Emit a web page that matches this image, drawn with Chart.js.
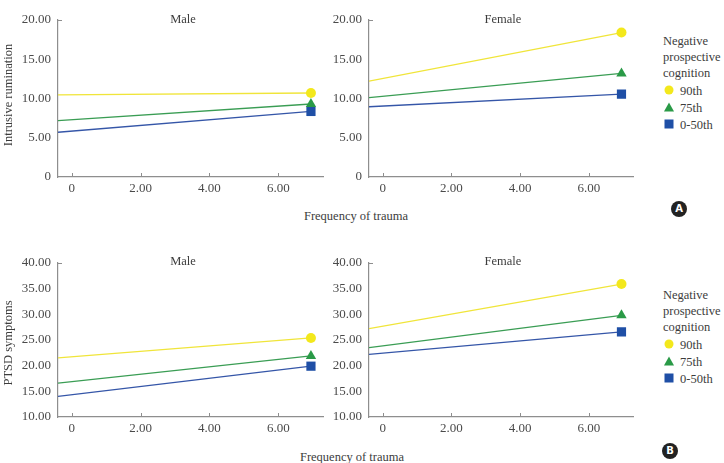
<!DOCTYPE html>
<html>
<head>
<meta charset="utf-8">
<script src="https://cdn.jsdelivr.net/npm/chart.js@4.4.1/dist/chart.umd.min.js"></script>
<style>
  body { margin:0; background:#fff; width:724px; height:463px; position:relative; overflow:hidden;
         font-family:"Liberation Serif", "DejaVu Serif", serif; color:#3c3c3c; }
  canvas { position:absolute; }
  .t  { position:absolute; white-space:nowrap; font-size:12.5px; line-height:1; transform:translate(-50%,-50%); }
  .rot { transform:translate(-50%,-50%) rotate(-90deg); }
  .lg { position:absolute; white-space:nowrap; font-size:12.5px; line-height:1; transform:translateY(-50%); }
  .mk { position:absolute; transform:translate(-50%,-50%); }
  .mk.c { width:9px; height:9px; border-radius:50%; background:#f3e81c; }
  .mk.tr { width:0; height:0; border-left:5px solid transparent; border-right:5px solid transparent; border-bottom:9px solid #2a9a47; }
  .mk.sq { width:9px; height:9px; background:#1f4fa6; }
  .badge { position:absolute; width:16px; height:16px; border-radius:50%; background:#222; color:#fff;
           font:bold 10px "DejaVu Sans", sans-serif; text-align:center; line-height:16px; transform:translate(-50%,-50%); }
</style>
</head>
<body>

<canvas id="c1"></canvas>
<canvas id="c2"></canvas>
<canvas id="c3"></canvas>
<canvas id="c4"></canvas>

<!-- panel titles and axis titles -->
<div class="t" style="left:183px;top:19px">Male</div>
<div class="t" style="left:503px;top:19px">Female</div>
<div class="t" style="left:183px;top:261px">Male</div>
<div class="t" style="left:503px;top:261px">Female</div>
<div class="t rot" style="left:8px;top:95px">Intrusive rumination</div>
<div class="t rot" style="left:8px;top:343px">PTSD symptoms</div>
<div class="t" style="left:356px;top:216px">Frequency of trauma</div>
<div class="t" style="left:352px;top:457px">Frequency of trauma</div>

<!-- legends -->
<div class="lg" style="left:663px;top:41px">Negative</div>
<div class="lg" style="left:663px;top:57px">prospective</div>
<div class="lg" style="left:663px;top:73px">cognition</div>
<div class="mk c"  style="left:669px;top:90px"></div><div class="lg" style="left:680px;top:91px">90th</div>
<div class="mk tr" style="left:669px;top:107px"></div><div class="lg" style="left:680px;top:108px">75th</div>
<div class="mk sq" style="left:669px;top:124px"></div><div class="lg" style="left:680px;top:125px">0-50th</div>

<div class="lg" style="left:663px;top:295px">Negative</div>
<div class="lg" style="left:663px;top:311px">prospective</div>
<div class="lg" style="left:663px;top:327px">cognition</div>
<div class="mk c"  style="left:669px;top:344px"></div><div class="lg" style="left:680px;top:345px">90th</div>
<div class="mk tr" style="left:669px;top:361px"></div><div class="lg" style="left:680px;top:362px">75th</div>
<div class="mk sq" style="left:669px;top:378px"></div><div class="lg" style="left:680px;top:379px">0-50th</div>

<div class="badge" style="left:679px;top:209px">A</div>
<div class="badge" style="left:670px;top:451px">B</div>

<script>
// ── data ────────────────────────────────────────────────────────────────────
const xTrauma   = [-0.4, 6.95];          // frequency of trauma (line start, end)
const xTickVals = [0, 2, 4, 6];
const xRange    = [-0.4, 7.3];

const ruminTicks = [0, 5, 10, 15, 20];
const ptsdTicks  = [10, 15, 20, 25, 30, 35, 40];

// Intrusive rumination
const ruminMale90   = [10.45, 10.7];
const ruminMale75   = [7.17, 9.3];
const ruminMale50   = [5.7, 8.35];
const ruminFemale90 = [12.2, 18.4];
const ruminFemale75 = [10.1, 13.2];
const ruminFemale50 = [8.95, 10.55];

// PTSD symptoms
const ptsdMale90   = [21.5, 25.4];
const ptsdMale75   = [16.6, 21.9];
const ptsdMale50   = [14.0, 19.9];
const ptsdFemale90 = [27.2, 35.9];
const ptsdFemale75 = [23.5, 29.8];
const ptsdFemale50 = [22.2, 26.6];

// ── style ───────────────────────────────────────────────────────────────────
const axisColor = '#8e8e8e';
const tickFont  = { family: '"Liberation Serif", serif', size: 13 };
const groups = [
  { line:'#f0e53a', fill:'#f3e81c', style:'circle',   r:5 },
  { line:'#3a9d54', fill:'#2a9a47', style:'triangle', r:6 },
  { line:'#3556a8', fill:'#1f4fa6', style:'rect',     r:6.5 },
];

const fmt = v => v === 0 ? '0' : v.toFixed(2);

// small inward ticks on the x axis and a cap at the top of the y axis
const inwardTicks = {
  id: 'inwardTicks',
  afterDraw(chart) {
    const { ctx, scales: { x, y } } = chart;
    ctx.save();
    ctx.strokeStyle = axisColor;
    ctx.lineWidth = 1;
    ctx.beginPath();
    x.ticks.forEach(t => {
      const px = Math.round(x.getPixelForValue(t.value)) + 0.5;
      ctx.moveTo(px, y.bottom);
      ctx.lineTo(px, y.bottom - 4);
    });
    const top = Math.round(y.getPixelForValue(y.max)) + 0.5;
    ctx.moveTo(x.left, top);
    ctx.lineTo(x.left + 4, top);
    ctx.stroke();
    ctx.restore();
  }
};

// canvas box + plot box in page coords
function makeChart(id, box, plot, yTicks, series) {
  const cv = document.getElementById(id);
  cv.width = box.w; cv.height = box.h;
  cv.style.left = box.x + 'px'; cv.style.top = box.y + 'px';

  const datasets = series.map((vals, i) => {
    const g = groups[i];
    return {
      data: xTrauma.map((x, j) => ({ x, y: vals[j] })),
      showLine: true,
      borderColor: g.line,
      borderWidth: 1.3,
      pointRadius: [0, g.r],
      pointHoverRadius: [0, g.r],
      pointStyle: g.style,
      pointBackgroundColor: g.fill,
      pointBorderColor: g.fill,
      pointBorderWidth: 0,
    };
  });

  return new Chart(cv, {
    type: 'scatter',
    data: { datasets },
    options: {
      responsive: false,
      animation: false,
      devicePixelRatio: 1,
      layout: { padding: { top: plot.t - box.y, right: box.x + box.w - plot.r, left: 0, bottom: 0 } },
      plugins: { legend: { display: false }, tooltip: { enabled: false } },
      scales: {
        x: {
          type: 'linear', min: xRange[0], max: xRange[1],
          afterBuildTicks: s => { s.ticks = xTickVals.map(v => ({ value: v })); },
          afterFit: s => { s.height = box.y + box.h - plot.b; },
          grid: { drawOnChartArea: false, drawTicks: false },
          border: { color: axisColor, width: 1.2 },
          ticks: { callback: fmt, font: tickFont, color: '#4a4a4a', padding: 4, maxRotation: 0 }
        },
        y: {
          min: yTicks[0], max: yTicks[yTicks.length - 1],
          afterBuildTicks: s => { s.ticks = yTicks.map(v => ({ value: v })); },
          afterFit: s => { s.width = plot.l - box.x; },
          grid: { drawOnChartArea: false, drawTicks: false },
          border: { color: axisColor, width: 1.2 },
          ticks: { callback: fmt, font: tickFont, color: '#4a4a4a', padding: 7 }
        }
      }
    },
    plugins: [inwardTicks]
  });
}

makeChart('c1', { x:0,   y:0,   w:330, h:200 }, { l:58,  t:20,  r:323, b:177 }, ruminTicks,
          [ruminMale90, ruminMale75, ruminMale50]);
makeChart('c2', { x:330, y:0,   w:310, h:200 }, { l:369, t:20,  r:635, b:177 }, ruminTicks,
          [ruminFemale90, ruminFemale75, ruminFemale50]);
makeChart('c3', { x:0,   y:240, w:330, h:200 }, { l:58,  t:263, r:323, b:417 }, ptsdTicks,
          [ptsdMale90, ptsdMale75, ptsdMale50]);
makeChart('c4', { x:330, y:240, w:310, h:200 }, { l:369, t:263, r:635, b:417 }, ptsdTicks,
          [ptsdFemale90, ptsdFemale75, ptsdFemale50]);
</script>
</body>
</html>
